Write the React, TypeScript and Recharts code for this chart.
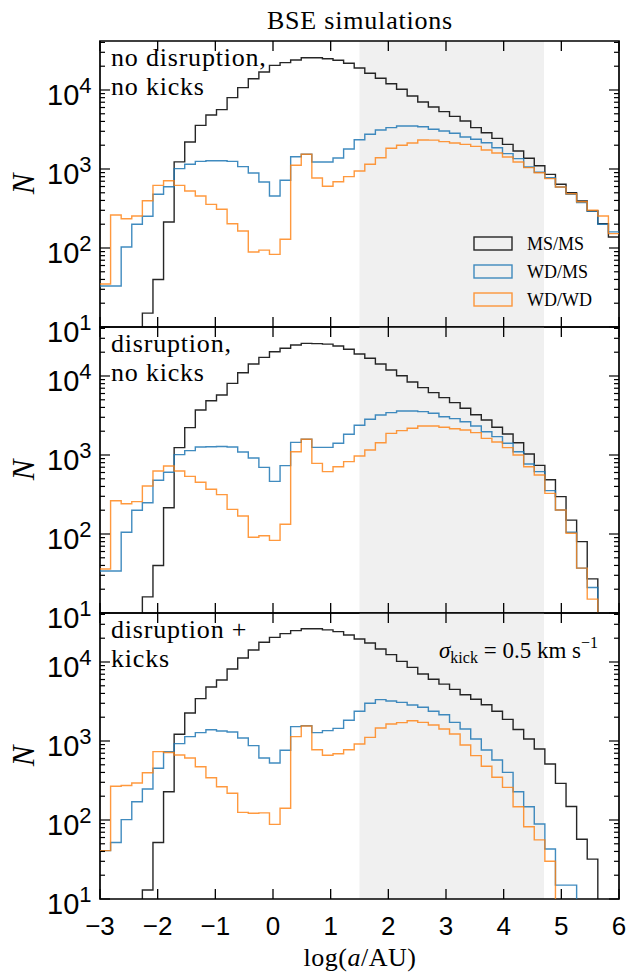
import { Line, LineChart, ReferenceArea, XAxis, YAxis } from 'recharts';

// histogram bins: 49 equal bins between log(a/AU) = -3 and 6
const N_BINS = 49;
const X_MIN = -3;
const X_MAX = 6;
const Y_MIN = 10;
const Y_MAX = 41700;
const X_TICKS = [-3, -2, -1, 0, 1, 2, 3, 4, 5, 6];
const Y_DECADES = [10, 100, 1000, 10000];
const SHADE_FROM = 1.5;
const SHADE_TO = 4.7;

// counts per bin (1 = empty bin, below the axis)
const MSMS_NO_DISRUPTION = [
  1, 1, 1, 1, 15, 40, 213, 1230, 2200, 3570, 4830, 5640, 8000, 10700, 13900, 16900, 20500,
  22200, 24000, 25600, 25600, 24900, 23800, 21800, 19000, 16300, 14060, 12000, 10200, 8390,
  7050, 6090, 5320, 4640, 4050, 3340, 2880, 2440, 2050, 1690, 1365, 1100, 855, 640, 500, 394,
  294, 203, 138,
];
const WDMS_NO_DISRUPTION = [
  33, 33, 103, 200, 252, 478, 597, 1010, 1146, 1250, 1270, 1270, 1250, 1070, 890, 684, 455, 719,
  1432, 1535, 1227, 1227, 1378, 1792, 2350, 2750, 3120, 3335, 3500, 3500, 3433, 3180, 3030,
  2830, 2540, 2375, 2150, 1860, 1563, 1352, 1060, 908, 776, 592, 478, 375, 294, 200, 160,
];
const WDWD_NO_DISRUPTION = [
  35, 262, 235, 254, 397, 621, 711, 621, 527, 455, 357, 309, 203, 164, 89, 94, 83, 129, 1113,
  1535, 769, 604, 691, 800, 943, 1146, 1390, 1828, 1995, 2133, 2330, 2320, 2218, 2133, 2050,
  1936, 1740, 1595, 1418, 1227, 1040, 898, 755, 592, 487, 385, 300, 254, 152,
];

const MSMS_DISRUPTION = [
  1, 1, 1, 1, 16, 40, 215, 1240, 2220, 3715, 4870, 5745, 8070, 11000, 14200, 17200, 20300,
  22400, 24700, 25900, 25700, 25300, 24000, 21800, 18970, 16750, 14190, 11910, 10090, 8395,
  7115, 6150, 5320, 4595, 3900, 3236, 2773, 2240, 1845, 1432, 1030, 740, 487, 297, 150, 80, 27,
  1, 1,
];
const WDMS_DISRUPTION = [
  34, 34, 105, 200, 249, 478, 604, 1010, 1135, 1262, 1270, 1280, 1262, 1091, 916, 698, 464, 733,
  1445, 1580, 1250, 1250, 1406, 1828, 2375, 2830, 3210, 3435, 3605, 3605, 3540, 3370, 3055,
  2885, 2640, 2330, 1972, 1706, 1406, 1100, 769, 615, 354, 201, 105, 37, 21, 1, 1,
];
const WDWD_DISRUPTION = [
  36, 264, 242, 257, 405, 627, 726, 627, 537, 451, 368, 315, 205, 169, 91, 95, 83, 133, 1100,
  1580, 784, 615, 711, 824, 971, 1157, 1432, 1880, 2032, 2178, 2330, 2330, 2240, 2153, 2072,
  1918, 1625, 1462, 1240, 1000, 711, 558, 327, 201, 102, 37, 15, 1, 1,
];

const MSMS_KICKS = [
  1, 1, 1, 1, 13, 52, 228, 1215, 2262, 3435, 4830, 5918, 8150, 11240, 14190, 17750, 20500,
  22860, 24930, 26400, 26400, 25500, 24200, 21980, 19550, 17400, 14620, 12380, 10190, 8560,
  7050, 6040, 5250, 4500, 3850, 3370, 2870, 2380, 1880, 1400, 1060, 792, 511, 291, 148, 57, 32,
  1, 1,
];
const WDMS_KICKS = [
  41, 52, 101, 170, 247, 451, 733, 925, 1135, 1275, 1390, 1340, 1300, 1091, 873, 609, 527, 762,
  1518, 1560, 1275, 1352, 1445, 1828, 2375, 3000, 3335, 3210, 3085, 2856, 2670, 2375, 2153,
  1722, 1418, 1060, 769, 575, 401, 228, 147, 89, 43, 15, 15, 1, 1, 1, 1,
];
const WDWD_KICKS = [
  41, 267, 273, 294, 397, 733, 715, 665, 609, 473, 343, 264, 218, 125, 122, 123, 88, 141, 1135,
  1545, 776, 659, 691, 776, 916, 1112, 1462, 1641, 1706, 1807, 1720, 1595, 1418, 1227, 890, 652,
  478, 347, 259, 147, 82, 56, 30, 1, 1, 1, 1, 1, 1,
];

const SERIES = [
  { key: 'msms', name: 'MS/MS', color: '#000000', opacity: 0.85 },
  { key: 'wdms', name: 'WD/MS', color: '#1f77b4', opacity: 0.85 },
  { key: 'wdwd', name: 'WD/WD', color: '#ff7f0e', opacity: 0.8 },
];

const PANEL_LABELS = [
  ['no disruption,', 'no kicks'],
  ['disruption,', 'no kicks'],
  ['disruption +', 'kicks'],
];

// layout
const CHART_W = 630;
const PLOT_LEFT = 100;
const PLOT_RIGHT = 619;
const PLOT_TOP = 10;
const PLOT_H = 286;
const PLOT_BOTTOM = PLOT_TOP + PLOT_H;
const AXIS_H = 50;
const PANEL_TOPS = [41, 327, 613];

const SERIF = "'Liberation Serif', 'DejaVu Serif', serif";
const TICK_FONT = "'Liberation Sans Narrow', 'Liberation Sans', Arial, sans-serif";

type Row = { x: number; msms: number; wdms: number; wdwd: number };

function buildRows(ms: number[], wdms: number[], wdwd: number[]): Row[] {
  const width = (X_MAX - X_MIN) / N_BINS;
  const rows = ms.map((_, i) => ({ x: X_MIN + i * width, msms: ms[i], wdms: wdms[i], wdwd: wdwd[i] }));
  const last = N_BINS - 1;
  rows.push({ x: X_MAX, msms: ms[last], wdms: wdms[last], wdwd: wdwd[last] });
  return rows;
}

const PANELS = [
  buildRows(MSMS_NO_DISRUPTION, WDMS_NO_DISRUPTION, WDWD_NO_DISRUPTION),
  buildRows(MSMS_DISRUPTION, WDMS_DISRUPTION, WDWD_DISRUPTION),
  buildRows(MSMS_KICKS, WDMS_KICKS, WDWD_KICKS),
];

const Y_TICKS = Y_DECADES.flatMap((d) => [1, 2, 3, 4, 5, 6, 7, 8, 9].map((m) => d * m)).filter(
  (v) => v <= Y_MAX,
);

const formatX = (v: number) => (v < 0 ? `\u2212${Math.abs(v)}` : String(v));

function XTick(props: any) {
  const { x, payload, showLabel } = props;
  return (
    <g>
      <line x1={x} x2={x} y1={PLOT_BOTTOM} y2={PLOT_BOTTOM - 10} stroke="#000" strokeWidth={1.3} />
      <line x1={x} x2={x} y1={PLOT_TOP} y2={PLOT_TOP + 10} stroke="#000" strokeWidth={1.3} />
      {showLabel && (
        <text x={x} y={PLOT_BOTTOM + 36} textAnchor="middle" fontFamily={TICK_FONT} fontSize={26} fill="#000">
          {formatX(payload.value)}
        </text>
      )}
    </g>
  );
}

function YTick(props: any) {
  const { y, payload } = props;
  const lg = Math.log10(payload.value);
  const exp = Math.round(lg);
  const major = Math.abs(lg - exp) < 1e-9;
  const len = major ? 10 : 5;
  return (
    <g>
      <line x1={PLOT_LEFT} x2={PLOT_LEFT + len} y1={y} y2={y} stroke="#000" strokeWidth={1.2} />
      <line x1={PLOT_RIGHT - len} x2={PLOT_RIGHT} y1={y} y2={y} stroke="#000" strokeWidth={1.2} />
      {major && (
        <text x={47} y={y + 15} fontFamily={TICK_FONT} fontSize={29} fill="#000">
          10
          <tspan dy={-12} fontSize={22}>
            {exp}
          </tspan>
        </text>
      )}
    </g>
  );
}

function Panel({ rows, showXLabels }: { rows: Row[]; showXLabels: boolean }) {
  return (
    <LineChart
      width={CHART_W}
      height={PLOT_TOP + PLOT_H + AXIS_H}
      data={rows}
      margin={{ top: PLOT_TOP, right: CHART_W - PLOT_RIGHT, bottom: 0, left: 0 }}
    >
      <ReferenceArea x1={SHADE_FROM} x2={SHADE_TO} y1={Y_MIN} y2={Y_MAX} fill="#f0f0f0" fillOpacity={1} stroke="none" />
      <XAxis
        dataKey="x"
        type="number"
        domain={[X_MIN, X_MAX]}
        ticks={X_TICKS}
        interval={0}
        allowDataOverflow
        height={AXIS_H}
        axisLine={false}
        tickLine={false}
        tick={(p: any) => <XTick {...p} showLabel={showXLabels} />}
      />
      <YAxis
        type="number"
        scale="log"
        domain={[Y_MIN, Y_MAX]}
        ticks={Y_TICKS}
        interval={0}
        allowDataOverflow
        width={PLOT_LEFT}
        axisLine={false}
        tickLine={false}
        tick={(p: any) => <YTick {...p} />}
      />
      {SERIES.map((s) => (
        <Line
          key={s.key}
          dataKey={s.key}
          name={s.name}
          type="stepAfter"
          stroke={s.color}
          strokeOpacity={s.opacity}
          strokeWidth={1.4}
          dot={false}
          activeDot={false}
          isAnimationActive={false}
        />
      ))}
      <ReferenceArea x1={X_MIN} x2={X_MAX} y1={Y_MIN} y2={Y_MAX} fill="none" fillOpacity={0} stroke="#000" strokeWidth={1.7} />
    </LineChart>
  );
}

function Overlay() {
  const legendY = [237, 265, 293];
  return (
    <svg width={630} height={972} style={{ position: 'absolute', left: 0, top: 0, pointerEvents: 'none' }}>
      <text x={360} y={29} textAnchor="middle" fontFamily={SERIF} fontSize={26} letterSpacing={0.8}>
        BSE simulations
      </text>
      {PANEL_TOPS.map((top, i) => (
        <g key={i}>
          <text
            x={34}
            y={top + PLOT_H / 2}
            textAnchor="middle"
            fontFamily={SERIF}
            fontStyle="italic"
            fontSize={31}
            transform={`rotate(-90, 34, ${top + PLOT_H / 2})`}
          >
            N
          </text>
          <text x={111} y={top + 25} fontFamily={SERIF} fontSize={26} letterSpacing={0.8}>
            {PANEL_LABELS[i][0]}
          </text>
          <text x={111} y={top + 53.5} fontFamily={SERIF} fontSize={26} letterSpacing={0.8}>
            {PANEL_LABELS[i][1]}
          </text>
        </g>
      ))}
      <text x={598} y={PANEL_TOPS[2] + 45} textAnchor="end" fontFamily={SERIF} fontSize={23}>
        <tspan fontStyle="italic">σ</tspan>
        <tspan fontSize={16} dy={5}>
          kick
        </tspan>
        <tspan dy={-5}> = 0.5 km s</tspan>
        <tspan fontSize={16} dy={-10}>
          −1
        </tspan>
      </text>
      {SERIES.map((s, i) => (
        <g key={s.key}>
          <rect
            x={474}
            y={legendY[i]}
            width={38}
            height={13}
            fill="none"
            stroke={s.color}
            strokeOpacity={s.opacity}
            strokeWidth={1.4}
          />
          <text x={527} y={legendY[i] + 13} fontFamily={SERIF} fontSize={18}>
            {s.name}
          </text>
        </g>
      ))}
      <text x={360} y={966} textAnchor="middle" fontFamily={SERIF} fontSize={26} letterSpacing={0.5}>
        log(<tspan fontStyle="italic">a</tspan>/AU)
      </text>
    </svg>
  );
}

export default function App() {
  return (
    <div style={{ position: 'absolute', left: 0, top: 0, width: 630, height: 972, background: '#fff' }}>
      {PANELS.map((rows, i) => (
        <div key={i} style={{ position: 'absolute', left: 0, top: PANEL_TOPS[i] - PLOT_TOP }}>
          <Panel rows={rows} showXLabels={i === PANELS.length - 1} />
        </div>
      ))}
      <Overlay />
    </div>
  );
}
